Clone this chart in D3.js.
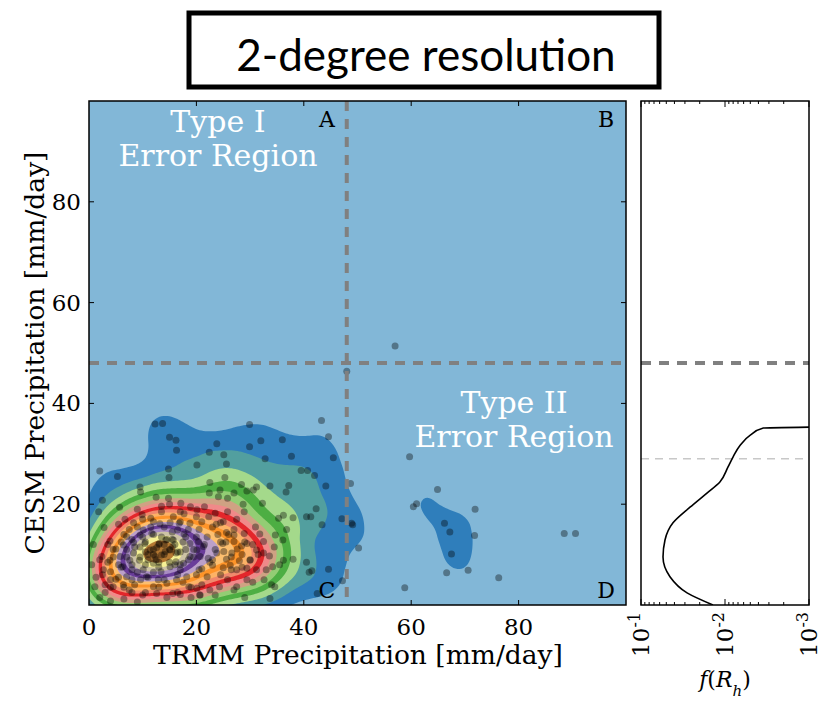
<!DOCTYPE html>
<html>
<head>
<meta charset="utf-8">
<script src="https://cdn.jsdelivr.net/npm/d3@7"></script>
<style>
  body { margin: 0; background: #fff; }
  svg text { font-family: 'DejaVu Serif', serif; }
</style>
</head>
<body>
<div id="chart"></div>
<script>
var width = 827,
	height = 703;

// TRMM (x) vs CESM (y) precipitation, mm/day
var pointsX = [
	5.3, 14.9, 22.5, 25.3, 28.4, 31.2, 33.7, 36.7, 9.5, 9.6, 2.5, 5.7, 1.8, 12.5, 14.8, 13.5, 17.1, 22.4, 24.4, 25.8,
	24.1, 27.0, 29.4, 30.6, 32.3, 28.7, 28.9, 25.8, 20.1, 18.9, 17.7, 15.7, 9.9, 6.7, 2.8, 8.3, 11.5, 13.2, 15.1, 16.8,
	18.8, 21.0, 22.3, 23.5, 24.5, 23.7, 25.6, 27.0, 28.9, 31.8, 34.7, 36.1, 36.2, 35.3, 36.8, 33.6, 32.5, 34.2, 36.2, 32.6,
	29.4, 27.5, 25.8, 24.3, 22.0, 21.0, 18.6, 17.0, 20.6, 22.5, 14.5, 12.0, 9.6, 8.0, 6.3, 5.0, 4.0, 3.0, 1.3, 1.1,
	2.4, 3.9, 5.0, 6.4, 8.3, 9.5, 10.1, 11.7, 7.0, 13.1, 14.3, 15.6, 16.5, 17.7, 18.8, 20.4, 21.3, 22.2, 23.8, 24.9,
	25.1, 26.6, 27.6, 28.0, 26.3, 25.0, 23.0, 20.7, 20.1, 18.8, 17.6, 17.0, 15.1, 13.4, 12.0, 10.1, 9.4, 8.3, 7.6, 11.4,
	12.6, 14.2, 15.1, 16.2, 12.3, 13.5, 16.2, 15.7, 10.4, 5.8, 3.9, 2.7, 30.0, 31.2, 29.4, 32.5, 28.4, 27.0, 27.5, 29.4,
	31.2, 25.6, 34.6, 33.7, 20.7, 20.1, 15.6, 12.6, 6.4, 8.0, 18.2, 16.3, 12.9, 10.7, 7.0, 4.5,
	11.0, 12.0, 13.0, 14.0, 15.0, 16.0, 12.5, 14.5, 10.5, 17.0, 8.5, 9.5, 10.5, 13.0, 16.0, 18.5, 19.5, 18.0, 15.5, 12.0,
	7.0, 6.0, 5.5, 8.0, 11.0, 14.0, 17.5, 20.0, 22.5, 23.5, 22.0, 20.5, 17.0, 12.0, 9.0, 6.5, 4.5, 3.5, 4.0, 7.5,
	25.5, 26.5, 24.5, 28.5, 30.5, 27.0, 24.0, 21.0, 16.5, 10.0,
	2.5, 4.5, 6.0, 7.5, 10.0, 13.5, 17.0, 20.0, 23.0, 26.0, 29.0, 31.5, 33.0, 30.5, 27.0, 23.5, 19.0, 14.5, 10.5, 6.5,
	4.0, 3.5, 5.5, 9.0, 15.0, 21.5, 27.5, 31.0, 34.5, 35.5, 34.0, 29.0, 8.0, 10.0, 14.0, 18.5, 21.5, 23.0, 20.5, 16.5,
	12.0, 9.0, 7.0, 11.5, 17.5, 19.5, 15.0, 11.0, 9.5, 13.5, 24.5, 26.5, 28.5, 30.0, 25.0, 19.0, 13.0, 8.5, 5.5, 2.0,
	16.5, 14.0, 12.0, 18.0, 10.5, 15.5, 13.0, 17.0, 20.0, 8.0,
	2.0, 4.0, 6.5, 9.0, 3.0, 0.5, 0.8,
	12.3, 13.7, 15.0, 16.2, 16.3, 29.9, 23.8, 29.9, 32.0, 36.0, 43.3, 44.6, 45.5, 37.7, 32.8, 22.4, 14.8, 20.1, 25.6, 25.1,
	39.5, 40.7, 42.0, 44.1, 48.7, 42.3, 47.1, 49.1, 48.9, 50.2, 43.4, 41.3, 40.5, 38.0, 41.0, 41.5, 42.5, 47.2, 44.6, 38.0,
	40.5, 2.0, 37.2, 48.0, 57.0,
	59.7, 64.9, 60.4, 61.0, 71.9, 66.2, 67.2, 71.8, 67.5, 66.6, 70.6, 76.3, 58.8, 88.5, 90.6
];
var pointsY = [
	25.5, 25.3, 24.3, 25.3, 23.9, 23.4, 23.6, 22.4, 23.4, 22.4, 20.8, 19.4, 18.5, 21.4, 21.2, 19.6, 20.2, 22.2, 22.8, 21.2,
	21.5, 22.2, 22.6, 22.8, 20.2, 20.0, 18.5, 18.5, 18.9, 19.5, 18.1, 17.5, 17.9, 17.0, 15.4, 16.3, 17.2, 16.1, 16.3, 16.2,
	16.2, 16.5, 17.5, 18.2, 16.3, 16.0, 14.4, 13.9, 14.2, 14.1, 13.9, 12.9, 17.8, 17.2, 15.0, 9.7, 10.3, 7.6, 8.9, 5.0,
	5.0, 3.6, 5.0, 3.6, 5.6, 7.2, 3.6, 2.1, 2.0, 3.0, 4.3, 3.6, 5.0, 7.0, 7.6, 5.1, 6.6, 4.0, 5.5, 3.6,
	9.6, 12.7, 11.1, 11.9, 12.4, 13.9, 14.9, 14.2, 13.6, 12.2, 12.9, 11.6, 14.9, 14.1, 12.2, 12.6, 11.6, 9.3, 10.3, 12.2,
	10.6, 10.3, 11.1, 8.8, 7.9, 7.4, 7.9, 9.6, 10.9, 9.6, 8.3, 7.0, 7.6, 6.6, 8.3, 7.0, 8.9, 10.3, 8.9, 10.9,
	11.4, 10.6, 10.9, 10.3, 9.6, 9.9, 8.6, 12.9, 12.2, 9.6, 8.9, 7.0, 8.9, 10.9, 12.2, 12.6, 11.7, 12.6, 7.0, 7.3,
	7.0, 9.1, 3.6, 1.3, 2.0, 3.3, 2.3, 2.3, 4.0, 2.5, 5.6, 5.0, 5.0, 5.6, 5.6, 3.6,
	10.0, 11.0, 12.0, 10.0, 11.0, 12.0, 9.0, 13.0, 12.5, 10.5, 11.5, 9.5, 8.0, 7.5, 8.0, 9.0, 11.0, 13.5, 14.5, 14.0,
	9.5, 7.5, 5.5, 5.0, 5.5, 5.0, 4.5, 6.0, 8.5, 11.0, 13.5, 15.0, 16.5, 16.5, 15.5, 14.0, 11.0, 8.5, 3.5, 3.0,
	12.5, 9.5, 6.0, 10.0, 12.0, 15.0, 14.0, 4.0, 2.5, 2.0,
	6.0, 9.5, 12.5, 15.0, 17.0, 18.5, 18.5, 17.5, 15.5, 14.0, 12.5, 10.0, 7.0, 4.5, 3.0, 2.0, 1.5, 1.5, 2.5, 3.5,
	5.0, 12.0, 16.0, 19.0, 20.0, 19.5, 17.0, 15.5, 11.5, 8.0, 4.0, 1.5, 8.0, 13.5, 15.5, 15.0, 12.0, 9.0, 7.0, 6.0,
	6.5, 6.5, 11.0, 15.5, 12.5, 9.5, 8.5, 9.0, 11.5, 13.5, 12.5, 7.0, 7.5, 9.0, 16.5, 3.5, 3.5, 4.0, 8.0, 9.0,
	10.5, 12.0, 10.0, 11.0, 10.5, 13.0, 8.5, 8.0, 13.5, 13.0,
	1.5, 0.8, 1.2, 0.6, 2.5, 8.0, 12.0,
	35.9, 36.0, 33.3, 32.7, 30.7, 35.8, 32.0, 31.4, 32.6, 32.8, 36.6, 33.4, 29.2, 29.5, 29.0, 30.3, 27.0, 27.8, 28.0, 29.8,
	26.7, 26.7, 25.7, 23.6, 24.1, 19.1, 17.1, 15.9, 16.2, 11.3, 15.9, 17.5, 17.5, 17.3, 6.5, 6.8, 2.3, 4.8, 7.1, 9.1,
	8.5, 26.6, 23.7, 46.4, 51.4,
	29.4, 22.9, 19.5, 20.1, 19.0, 16.2, 14.5, 13.8, 10.1, 6.4, 6.9, 5.4, 3.4, 14.2, 14.2
];

// marginal density of CESM precipitation (right panel)
var margY = [0, 2.4, 5.6, 9.5, 12.9, 16.3, 19.4, 22.2, 24.4, 27.4, 29.4, 31.7, 33.7, 35.1, 35.3];
var margF = [0.0139, 0.0283, 0.0452, 0.0547, 0.0518, 0.0416, 0.0261, 0.0164, 0.0115, 0.0092, 0.0080, 0.0066, 0.0050, 0.0035, 0.001];

var xTicks = [0, 20, 40, 60, 80];
var yTicks = [20, 40, 60, 80];
var fTicks = [1e-1, 1e-2, 1e-3];
var fTickLabels = ['-1', '-2', '-3'];
var threshold = 48;
var hitThreshold = 29;

// outer to inner filled levels
var levelColors = ['#2f7ebb', '#529f9f', '#a4d98b', '#4dae43', '#93cd74', '#cfa283', '#f08989', '#e3262b', '#f0896d',
	'#fdb266', '#fe9429', '#fdbf6f', '#bba0c9', '#6a3d9a', '#a88cc2', '#cdc3a5', '#f6f195', '#b47832'];

var points = pointsX.map(function(d, i) { return [d, pointsY[i]]; });

var svg = d3.select('#chart').append('svg')
	.attr('width', width)
	.attr('height', height);

// title box
svg.append('rect')
	.attr('x', 189).attr('y', 13)
	.attr('width', 470).attr('height', 74)
	.attr('fill', '#fff')
	.attr('stroke', '#000')
	.attr('stroke-width', 5);
svg.append('text')
	.attr('x', 426).attr('y', 71)
	.attr('text-anchor', 'middle')
	.style('font-family', 'Lato, "Open Sans", sans-serif')
	.style('font-size', '44px')
	.text('2-degree resolution');

var pL = 89, pR = 626, pT = 101, pB = 605;
var x = d3.scaleLinear().domain([0, 100]).range([pL, pR]);
var y = d3.scaleLinear().domain([0, 100]).range([pB, pT]);

var pw = pR - pL, ph = pB - pT;

svg.append('clipPath').attr('id', 'clipMain')
	.append('rect').attr('x', pL).attr('y', pT).attr('width', pw).attr('height', ph);

var main = svg.append('g').attr('clip-path', 'url(#clipMain)');

main.append('rect')
	.attr('x', pL).attr('y', pT)
	.attr('width', pw).attr('height', ph)
	.attr('fill', '#82b7d7');

var density = d3.contourDensity()
	.x(function(d) { return x(d[0]) - pL; })
	.y(function(d) { return y(d[1]) - pT; })
	.size([pw, ph])
	.cellSize(2)
	.bandwidth(18);

var dens = density.contours(points);
var levels = levelColors.map(function(c, i) { return dens.max * (i + 1) / (levelColors.length + 1); });

main.append('g')
	.attr('transform', 'translate(' + pL + ',' + pT + ')')
	.selectAll('path')
	.data(levels)
	.enter().append('path')
	.attr('d', function(t) { return d3.geoPath()(dens(t)); })
	.attr('fill', function(t, i) { return levelColors[i]; });

main.append('g').selectAll('circle')
	.data(points)
	.enter().append('circle')
	.attr('cx', function(d) { return x(d[0]); })
	.attr('cy', function(d) { return y(d[1]); })
	.attr('r', 3.5)
	.attr('fill', '#000')
	.attr('fill-opacity', 0.36);

main.append('line')
	.attr('x1', x(threshold)).attr('x2', x(threshold))
	.attr('y1', pT).attr('y2', pB)
	.attr('stroke', '#808080').attr('stroke-width', 4).attr('stroke-dasharray', '10,8');
main.append('line')
	.attr('x1', pL).attr('x2', pR)
	.attr('y1', y(threshold)).attr('y2', y(threshold))
	.attr('stroke', '#808080').attr('stroke-width', 4).attr('stroke-dasharray', '10,8');

// region text
function twoLines(cx, cy, a, b) {
	var t = svg.append('text')
		.attr('text-anchor', 'middle')
		.attr('fill', '#fff')
		.style('font-size', '30px');
	t.append('tspan').attr('x', cx).attr('y', cy).text(a);
	t.append('tspan').attr('x', cx).attr('y', cy + 34).text(b);
}
twoLines(218, 132, 'Type I', 'Error Region');
twoLines(514, 413, 'Type II', 'Error Region');

var corners = [['A', 327, 127], ['B', 606, 127], ['C', 327, 598], ['D', 606, 598]];
svg.selectAll('.corner')
	.data(corners)
	.enter().append('text')
	.attr('class', 'corner')
	.attr('x', function(d) { return d[1]; })
	.attr('y', function(d) { return d[2]; })
	.attr('text-anchor', 'middle')
	.style('font-size', '22px')
	.text(function(d) { return d[0]; });

// ticks inside on all four sides
var tk = svg.append('g').attr('stroke', '#000').attr('stroke-width', 1);
xTicks.slice(1).forEach(function(v) {
	tk.append('line').attr('x1', x(v)).attr('x2', x(v)).attr('y1', pB).attr('y2', pB - 5);
	tk.append('line').attr('x1', x(v)).attr('x2', x(v)).attr('y1', pT).attr('y2', pT + 5);
});
yTicks.forEach(function(v) {
	tk.append('line').attr('x1', pL).attr('x2', pL + 5).attr('y1', y(v)).attr('y2', y(v));
	tk.append('line').attr('x1', pR).attr('x2', pR - 5).attr('y1', y(v)).attr('y2', y(v));
});

svg.selectAll('.xtl')
	.data(xTicks)
	.enter().append('text')
	.attr('x', function(d) { return x(d); })
	.attr('y', 635)
	.attr('text-anchor', 'middle')
	.style('font-size', '23px')
	.text(function(d) { return d; });

svg.selectAll('.ytl')
	.data(yTicks)
	.enter().append('text')
	.attr('x', pL - 8)
	.attr('y', function(d) { return y(d) + 8; })
	.attr('text-anchor', 'end')
	.style('font-size', '23px')
	.text(function(d) { return d; });

svg.append('rect')
	.attr('x', pL).attr('y', pT).attr('width', pw).attr('height', ph)
	.attr('fill', 'none').attr('stroke', '#000').attr('stroke-width', 1.5);

svg.append('text')
	.attr('x', 358).attr('y', 664)
	.attr('text-anchor', 'middle')
	.style('font-size', '26.5px')
	.text('TRMM Precipitation [mm/day]');

svg.append('text')
	.attr('transform', 'translate(44,353) rotate(-90)')
	.attr('text-anchor', 'middle')
	.style('font-size', '26.5px')
	.text('CESM Precipitation [mm/day]');

// right panel: marginal pdf, log x reversed
var rl = 641, rr = 809;
var f = d3.scaleLog().domain([1e-1, 1e-3]).range([rl, rr]);

svg.append('clipPath').attr('id', 'clipSide')
	.append('rect').attr('x', rl).attr('y', pT).attr('width', rr - rl).attr('height', ph);
var side = svg.append('g').attr('clip-path', 'url(#clipSide)');

side.append('line')
	.attr('x1', rl).attr('x2', rr)
	.attr('y1', y(hitThreshold)).attr('y2', y(hitThreshold))
	.attr('stroke', '#c8c8c8').attr('stroke-width', 1.5).attr('stroke-dasharray', '8,6');
side.append('line')
	.attr('x1', rl).attr('x2', rr)
	.attr('y1', y(threshold)).attr('y2', y(threshold))
	.attr('stroke', '#808080').attr('stroke-width', 4).attr('stroke-dasharray', '10,8');

var line = d3.line()
	.x(function(d, i) { return f(margF[i]); })
	.y(function(d) { return y(d); })
	.curve(d3.curveMonotoneY);
side.append('path')
	.attr('d', line(margY))
	.attr('fill', 'none')
	.attr('stroke', '#000')
	.attr('stroke-width', 1.6);

var ftk = svg.append('g').attr('stroke', '#000').attr('stroke-width', 1);
[-3, -2].forEach(function(e) {
	d3.range(2, 10).forEach(function(k) {
		var v = k * Math.pow(10, e);
		ftk.append('line').attr('x1', f(v)).attr('x2', f(v)).attr('y1', pB).attr('y2', pB - 3);
		ftk.append('line').attr('x1', f(v)).attr('x2', f(v)).attr('y1', pT).attr('y2', pT + 3);
	});
});
fTicks.forEach(function(v) {
	ftk.append('line').attr('x1', f(v)).attr('x2', f(v)).attr('y1', pB).attr('y2', pB - 6);
	ftk.append('line').attr('x1', f(v)).attr('x2', f(v)).attr('y1', pT).attr('y2', pT + 6);
});

svg.append('rect')
	.attr('x', rl).attr('y', pT).attr('width', rr - rl).attr('height', ph)
	.attr('fill', 'none').attr('stroke', '#000').attr('stroke-width', 1.5);

fTicks.forEach(function(v, i) {
	var t = svg.append('text')
		.attr('transform', 'translate(' + (f(v) + 8) + ',612) rotate(-90)')
		.attr('text-anchor', 'end')
		.style('font-size', '23px');
	t.append('tspan').text('10');
	t.append('tspan').attr('baseline-shift', 'super').style('font-size', '16px').text(fTickLabels[i]);
});

var fl = svg.append('text')
	.attr('x', 725).attr('y', 687)
	.attr('text-anchor', 'middle')
	.style('font-size', '22px')
	.style('font-style', 'italic');
fl.append('tspan').text('f');
fl.append('tspan').style('font-style', 'normal').text('(');
fl.append('tspan').text('R');
fl.append('tspan').attr('baseline-shift', 'sub').style('font-size', '15px').text('h');
fl.append('tspan').style('font-style', 'normal').text(')');
</script>
</body>
</html>
